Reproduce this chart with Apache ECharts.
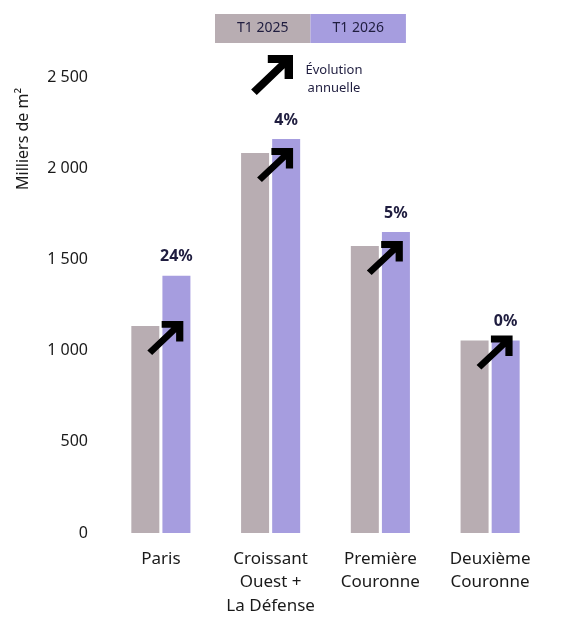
<!DOCTYPE html>
<html>
<head>
<meta charset="utf-8">
<script src="https://cdn.jsdelivr.net/npm/echarts@6/dist/echarts.min.js"></script>
<style>html,body{margin:0;padding:0;background:#fff;}#c{width:579px;height:622px;}</style>
</head>
<body>
<div id="c"></div>
<script>
const categories = ['Paris', 'Croissant\nOuest +\nLa Défense', 'Première\nCouronne', 'Deuxième\nCouronne'];
const seriesNames = ['T1 2025', 'T1 2026'];
const values2025 = [1135, 2083, 1573, 1055];
const values2026 = [1410, 2160, 1650, 1055];
const evolution = ['24%', '4%', '5%', '0%'];
const yTickLabels = {0: '0', 500: '500', 1000: '1 000', 1500: '1 500', 2000: '2 000', 2500: '2 500'};
const yAxisTitle = 'Milliers de m²';
const evolutionLegend = 'Évolution\nannuelle';

const C2025 = '#b8adb2';
const C2026 = '#a69ddf';
const NAVY = '#1f1d3f';
const FONT = '"Noto Sans", sans-serif';
const ARROW_PTS = [[13.7,99.7],[80,33.4],[80,60],[100,60],[100,0],[40,0],[40,20],[66.6,20],[0.3,86.3]];
const ARROW = 'M' + ARROW_PTS.map(p => p.join(',')).join(' L') + ' Z';

const chart = echarts.init(document.getElementById('c'), null, {renderer: 'canvas'});
chart.setOption({
  backgroundColor: '#fff',
  animation: false,
  textStyle: {fontFamily: FONT},
  grid: {left: 106, right: 34, top: 77, bottom: 89, containLabel: false},
  legend: {
    left: 210, top: 14, padding: 0,
    itemWidth: 0, itemHeight: 0, itemGap: -5,
    icon: 'rect',
    selectedMode: false,
    data: [
      {name: seriesNames[0], textStyle: {backgroundColor: C2025, padding: [7, 22, 7, 22], fontSize: 14, lineHeight: 15, color: NAVY, fontFamily: FONT}},
      {name: seriesNames[1], textStyle: {backgroundColor: C2026, padding: [7, 22, 7, 22], fontSize: 14, lineHeight: 15, color: NAVY, fontFamily: FONT}}
    ]
  },
  xAxis: {
    type: 'category',
    data: categories,
    axisLine: {show: false},
    axisTick: {show: false},
    axisLabel: {color: '#1a1a1a', fontSize: 17, lineHeight: 23.5, margin: 14, fontFamily: FONT, interval: 0}
  },
  yAxis: {
    type: 'value',
    min: 0, max: 2500, interval: 500,
    splitLine: {show: false},
    axisLine: {show: false},
    axisTick: {show: false},
    axisLabel: {color: '#1a1a1a', fontSize: 16, margin: 18, fontFamily: FONT, formatter: v => yTickLabels[v]}
  },
  series: [
    {
      name: seriesNames[0], type: 'bar', data: values2025,
      barWidth: 28, barGap: '11%',
      itemStyle: {color: C2025},
      markPoint: {
        silent: true,
        symbol: 'path://' + ARROW,
        symbolSize: [36, 34],
        symbolOffset: [20, 12],
        itemStyle: {color: '#000'},
        label: {show: false},
        data: values2025.map((v, i) => ({coord: [i, v]}))
      }
    },
    {
      name: seriesNames[1], type: 'bar', data: values2026,
      barWidth: 28,
      itemStyle: {color: C2026},
      label: {
        show: true, position: 'top', distance: 11,
        formatter: p => evolution[p.dataIndex],
        fontSize: 16, fontWeight: 'bold', color: NAVY, fontFamily: FONT
      }
    }
  ],
  graphic: [
    {type: 'text', x: 31, y: 190, rotation: Math.PI / 2,
     style: {text: yAxisTitle, fontSize: 16, fill: '#1a1a1a', fontFamily: FONT, textAlign: 'left', textVerticalAlign: 'bottom'}},
    {type: 'polygon', x: 251, y: 55, scaleX: 0.42, scaleY: 0.40,
     shape: {points: ARROW_PTS}, style: {fill: '#000'}},
    {type: 'text', x: 334, y: 61,
     style: {text: evolutionLegend, fontSize: 13, lineHeight: 18, fill: NAVY, fontFamily: FONT, textAlign: 'center'}}
  ]
});
</script>
</body>
</html>
